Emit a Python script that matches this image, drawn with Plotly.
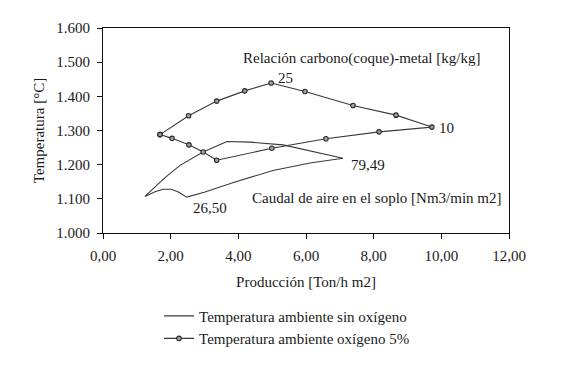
import plotly.graph_objects as go

# --- Data ---
# Temperatura ambiente sin oxígeno: closed loop (start -> upper curve -> 79,49 -> lower curve -> 26,50 -> bump -> start)
sin_ox_x = [1.24, 1.537, 1.833, 2.276, 2.956, 3.665, 4.345, 5.321, 6.119, 7.094,
            6.119, 5.025, 3.902, 3.015, 2.474, 2.217, 2.010, 1.774, 1.537, 1.24]
sin_ox_y = [1.107, 1.135, 1.162, 1.198, 1.237, 1.268, 1.266, 1.258, 1.240, 1.219,
            1.205, 1.183, 1.149, 1.120, 1.105, 1.121, 1.128, 1.128, 1.121, 1.107]

# Temperatura ambiente oxígeno 5%: upper branch then lower branch back
ox5_x = [1.685, 2.53, 3.36, 4.19, 4.97, 5.97, 7.39, 8.66, 9.72,
         8.16, 6.59, 4.99, 3.36, 2.96, 2.54, 2.04, 1.685]
ox5_y = [1.288, 1.343, 1.386, 1.416, 1.439, 1.414, 1.373, 1.345, 1.310,
         1.296, 1.276, 1.248, 1.213, 1.237, 1.258, 1.277, 1.288]

x_tickvals = [0, 2, 4, 6, 8, 10, 12]
x_ticktext = ["0,00", "2,00", "4,00", "6,00", "8,00", "10,00", "12,00"]
y_tickvals = [1.0, 1.1, 1.2, 1.3, 1.4, 1.5, 1.6]
y_ticktext = ["1.000", "1.100", "1.200", "1.300", "1.400", "1.500", "1.600"]

# point labels: (text, x, y)
point_labels = [("25", 5.12, 1.453), ("10", 9.88, 1.308), ("79,49", 7.28, 1.200), ("26,50", 2.61, 1.073)]
series_titles = [("Relación carbono(coque)-metal [kg/kg]", 4.09, 1.512),
                 ("Caudal de aire en el soplo [Nm3/min m2]", 4.33, 1.101)]

FONT = "Liberation Serif, Times New Roman, serif"
LINE_C = "#3a3a3a"
TEXT_C = "#1a1a1a"

fig = go.Figure()
fig.add_trace(go.Scatter(
    x=sin_ox_x, y=sin_ox_y, mode="lines",
    name="Temperatura ambiente sin oxígeno",
    line=dict(color=LINE_C, width=1.1),
))
fig.add_trace(go.Scatter(
    x=ox5_x, y=ox5_y, mode="lines+markers",
    name="Temperatura ambiente oxígeno 5%",
    line=dict(color=LINE_C, width=1.1),
    marker=dict(symbol="circle", size=4.5, color="#a0a0a0", line=dict(color="#2a2a2a", width=1.1)),
))

for txt, x, y in point_labels + series_titles:
    fig.add_annotation(x=x, y=y, text=txt, showarrow=False, xanchor="left",
                       font=dict(family=FONT, size=15, color=TEXT_C))

axis_common = dict(
    showgrid=False, zeroline=False, showline=True, linecolor="#111", linewidth=1.2,
    mirror=True, ticks="outside", ticklen=5, tickcolor="#111", tickwidth=1,
    ticklabelstandoff=4,
    tickfont=dict(family=FONT, size=15, color=TEXT_C),
)

fig.update_layout(
    width=571, height=365,
    margin=dict(l=95, r=70, t=13, b=140),
    paper_bgcolor="white", plot_bgcolor="white",
    font=dict(family=FONT, size=15, color=TEXT_C),
    showlegend=True,
    legend=dict(x=0.138, y=-0.325, xanchor="left", yanchor="top",
                bgcolor="rgba(0,0,0,0)", font=dict(family=FONT, size=15, color=TEXT_C),
                itemwidth=30, tracegroupgap=0),
    xaxis=dict(range=[0, 12], tickvals=x_tickvals, ticktext=x_ticktext,
               title=dict(text="Producción [Ton/h m2]", font=dict(family=FONT, size=15, color=TEXT_C), standoff=13),
               **axis_common),
    yaxis=dict(range=[1.0, 1.6], tickvals=y_tickvals, ticktext=y_ticktext,
               title=dict(text="Temperatura [°C]", font=dict(family=FONT, size=15, color=TEXT_C), standoff=7),
               **axis_common),
)

fig.write_html("out.html")
